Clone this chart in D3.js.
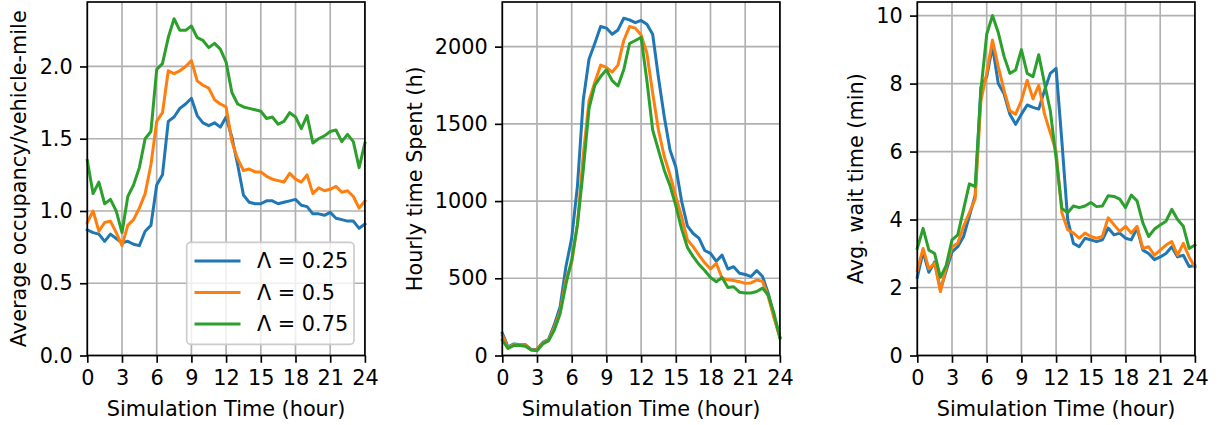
<!DOCTYPE html>
<html>
<head>
<meta charset="utf-8">
<script src="https://cdn.jsdelivr.net/npm/d3@7"></script>
<style>
  body { margin: 0; background: #fff; }
  text { font-family: "DejaVu Sans", sans-serif; fill: #000; }
</style>
</head>
<body>
<script>
/**********************
 ***      Data      ***
 **********************/

// simulation time, half-hour steps
const HOURS = [0, 0.5, 1, 1.5, 2, 2.5, 3, 3.5, 4, 4.5, 5, 5.5, 6, 6.5, 7, 7.5, 8, 8.5, 9, 9.5,
    10, 10.5, 11, 11.5, 12, 12.5, 13, 13.5, 14, 14.5, 15, 15.5, 16, 16.5, 17, 17.5, 18, 18.5, 19, 19.5,
    20, 20.5, 21, 21.5, 22, 22.5, 23, 23.5, 24];

const LAMBDAS = ['Λ = 0.25', 'Λ = 0.5', 'Λ = 0.75'];
const COLORS = ['#1f77b4', '#ff7f0e', '#2ca02c'];

// Average occupancy/vehicle-mile
const OCCUPANCY_025 = [0.87, 0.85, 0.84, 0.79, 0.84, 0.81, 0.78, 0.79, 0.77, 0.76, 0.86, 0.90, 1.18, 1.25, 1.62, 1.65,
    1.71, 1.74, 1.78, 1.66, 1.61, 1.59, 1.61, 1.58, 1.65, 1.51, 1.32, 1.11, 1.06, 1.05, 1.05, 1.07, 1.07, 1.05,
    1.06, 1.07, 1.08, 1.04, 1.03, 0.98, 0.98, 0.97, 0.99, 0.95, 0.94, 0.93, 0.93, 0.88, 0.91];
const OCCUPANCY_05 = [0.92, 1.00, 0.86, 0.92, 0.93, 0.85, 0.76, 0.90, 0.94, 1.02, 1.12, 1.32, 1.62, 1.68, 1.97, 1.95,
    1.97, 2.00, 2.04, 1.90, 1.87, 1.85, 1.77, 1.74, 1.72, 1.48, 1.36, 1.28, 1.29, 1.27, 1.27, 1.24, 1.22, 1.21,
    1.20, 1.26, 1.22, 1.20, 1.25, 1.12, 1.16, 1.14, 1.15, 1.17, 1.13, 1.14, 1.10, 1.02, 1.07];
const OCCUPANCY_075 = [1.35, 1.12, 1.20, 1.05, 1.08, 1.00, 0.85, 1.10, 1.18, 1.30, 1.50, 1.55, 1.98, 2.02, 2.20, 2.33,
    2.25, 2.25, 2.28, 2.20, 2.18, 2.13, 2.16, 2.12, 2.03, 1.82, 1.74, 1.72, 1.71, 1.70, 1.69, 1.64, 1.65, 1.60,
    1.62, 1.68, 1.65, 1.57, 1.66, 1.47, 1.50, 1.52, 1.55, 1.56, 1.48, 1.53, 1.48, 1.30, 1.47];

// Hourly time spent (h)
const TIME_SPENT_025 = [145, 55, 75, 72, 70, 38, 40, 85, 105, 200, 316, 575, 760, 1100, 1655, 1920, 2022, 2130, 2120,
    2080, 2108, 2184, 2173, 2155, 2170, 2145, 2080, 1800, 1547, 1331, 1220, 1000, 840, 790, 760, 680, 661, 610,
    650, 560, 575, 532, 525, 511, 550, 511, 400, 250, 120];
const TIME_SPENT_05 = [130, 50, 70, 70, 65, 38, 35, 80, 100, 180, 285, 490, 600, 850, 1300, 1650, 1770, 1880, 1865,
    1835, 1880, 2040, 2130, 2120, 2075, 1957, 1700, 1460, 1290, 1169, 1030, 900, 750, 705, 650, 600, 560, 597,
    500, 490, 485, 478, 467, 470, 489, 480, 380, 240, 115];
const TIME_SPENT_075 = [100, 45, 65, 65, 60, 35, 30, 75, 95, 165, 270, 460, 620, 850, 1200, 1600, 1750, 1806, 1850,
    1780, 1745, 1850, 2020, 2040, 2060, 1780, 1460, 1330, 1200, 1100, 970, 820, 700, 640, 590, 550, 505, 478,
    505, 440, 445, 410, 405, 405, 414, 436, 390, 270, 113];

// Avg. wait time (min)
const WAIT_TIME_025 = [2.30, 3.05, 2.45, 2.75, 1.93, 2.50, 3.05, 3.20, 3.50, 4.10, 4.70, 7.90, 8.20, 9.10, 8.00, 7.70,
    7.10, 6.80, 7.10, 7.37, 7.30, 7.25, 7.80, 8.30, 8.45, 6.30, 4.00, 3.30, 3.20, 3.45, 3.40, 3.35, 3.40, 3.75,
    3.55, 3.60, 3.45, 3.40, 3.75, 3.10, 3.00, 2.82, 2.90, 3.00, 3.20, 2.90, 2.95, 2.62, 2.65];
const WAIT_TIME_05 = [2.50, 3.15, 2.55, 2.72, 1.88, 2.60, 3.20, 3.30, 3.80, 4.20, 4.60, 7.50, 8.30, 9.28, 8.50, 7.80,
    7.20, 7.10, 7.50, 8.10, 7.55, 7.95, 7.10, 6.55, 6.00, 4.20, 3.70, 3.60, 3.45, 3.60, 3.50, 3.45, 3.50, 4.05,
    3.85, 3.65, 3.80, 3.60, 3.80, 3.15, 3.20, 2.95, 3.10, 3.25, 3.35, 2.95, 3.30, 2.90, 2.60];
const WAIT_TIME_075 = [3.15, 3.74, 3.10, 3.00, 2.30, 2.65, 3.40, 3.55, 4.30, 5.05, 4.97, 7.80, 9.45, 10.00, 9.50, 8.80,
    8.30, 8.40, 9.00, 8.30, 8.20, 8.85, 8.00, 7.20, 5.80, 4.33, 4.20, 4.40, 4.35, 4.40, 4.50, 4.38, 4.40, 4.70,
    4.68, 4.60, 4.35, 4.72, 4.55, 3.90, 3.50, 3.72, 3.84, 3.95, 4.30, 4.00, 3.80, 3.15, 3.25];

// tick labels
const X_TICKS = [0, 3, 6, 9, 12, 15, 18, 21, 24];
const OCCUPANCY_TICKS = [0, 0.5, 1, 1.5, 2];
const TIME_SPENT_TICKS = [0, 500, 1000, 1500, 2000];
const WAIT_TIME_TICKS = [0, 2, 4, 6, 8, 10];

/**********************
 ***    Constants   ***
 **********************/

const SCREEN_DIMENSIONS = { width: 1221, height: 425 };
const PANEL = { top: 2, bottom: 355.5, width: 277.6, lefts: [87.3, 502.3, 917.3] };
const FONT_SIZE = 20.8;
const LINE_WIDTH = 3;
const THIN = 1.67;
const TICK_SIZE = 7.3;

const panels = [
    { label: 'Average occupancy/vehicle-mile', ymax: 2.446, ticks: OCCUPANCY_TICKS, fmt: d3.format('.1f'),
      series: [OCCUPANCY_025, OCCUPANCY_05, OCCUPANCY_075], legend: true },
    { label: 'Hourly time Spent (h)', ymax: 2289, ticks: TIME_SPENT_TICKS, fmt: d3.format('d'),
      series: [TIME_SPENT_025, TIME_SPENT_05, TIME_SPENT_075] },
    { label: 'Avg. wait time (min)', ymax: 10.40, ticks: WAIT_TIME_TICKS, fmt: d3.format('d'),
      series: [WAIT_TIME_025, WAIT_TIME_05, WAIT_TIME_075] }
];

const svg = d3.select('body').append('svg')
    .attr('width', SCREEN_DIMENSIONS.width)
    .attr('height', SCREEN_DIMENSIONS.height)
    .style('font-size', FONT_SIZE + 'px');

panels.forEach((p, i) => {
    const left = PANEL.lefts[i];
    const x = d3.scaleLinear().domain([0, 24]).range([left, left + PANEL.width]);
    const y = d3.scaleLinear().domain([0, p.ymax]).range([PANEL.bottom, PANEL.top]);
    const g = svg.append('g');

    // grid
    g.append('g').selectAll('line').data(X_TICKS).enter().append('line')
        .attr('x1', d => x(d)).attr('x2', d => x(d))
        .attr('y1', PANEL.top).attr('y2', PANEL.bottom)
        .attr('stroke', '#b0b0b0').attr('stroke-width', THIN);
    g.append('g').selectAll('line').data(p.ticks).enter().append('line')
        .attr('x1', left).attr('x2', left + PANEL.width)
        .attr('y1', d => y(d)).attr('y2', d => y(d))
        .attr('stroke', '#b0b0b0').attr('stroke-width', THIN);

    // series
    const line = d3.line().x((d, j) => x(HOURS[j])).y(d => y(d));
    p.series.forEach((s, k) => {
        g.append('path')
            .datum(s)
            .attr('d', line)
            .attr('fill', 'none')
            .attr('stroke', COLORS[k])
            .attr('stroke-width', LINE_WIDTH)
            .attr('stroke-linejoin', 'round')
            .attr('stroke-linecap', 'square');
    });

    // spines
    g.append('rect')
        .attr('x', left).attr('y', PANEL.top)
        .attr('width', PANEL.width).attr('height', PANEL.bottom - PANEL.top)
        .attr('fill', 'none').attr('stroke', '#000').attr('stroke-width', THIN);

    // axes
    const xAxis = g.append('g')
        .attr('transform', `translate(0,${PANEL.bottom})`)
        .call(d3.axisBottom(x).tickValues(X_TICKS).tickSize(TICK_SIZE).tickPadding(TICK_SIZE).tickSizeOuter(0));
    const yAxis = g.append('g')
        .attr('transform', `translate(${left},0)`)
        .call(d3.axisLeft(y).tickValues(p.ticks).tickFormat(p.fmt)
            .tickSize(TICK_SIZE).tickPadding(TICK_SIZE).tickSizeOuter(0));
    [xAxis, yAxis].forEach(a => {
        a.select('.domain').remove();
        a.attr('font-size', null).attr('font-family', null);
        a.selectAll('.tick line').attr('stroke', '#000').attr('stroke-width', THIN);
        a.selectAll('.tick text').attr('fill', '#000');
    });

    // axis labels
    g.append('text')
        .attr('x', left + PANEL.width / 2)
        .attr('y', 416)
        .attr('text-anchor', 'middle')
        .text('Simulation Time (hour)');

    const tickBox = yAxis.node().getBBox();
    const labelX = left + tickBox.x - 8.3 - 0.236 * FONT_SIZE;
    g.append('text')
        .attr('transform', `translate(${labelX},${(PANEL.top + PANEL.bottom) / 2}) rotate(-90)`)
        .attr('text-anchor', 'middle')
        .text(p.label);

    // legend
    if (p.legend) {
        const lg = g.append('g');
        lg.append('rect')
            .attr('x', 186.7).attr('y', 242.3)
            .attr('width', 167.3).attr('height', 102)
            .attr('rx', 4).attr('ry', 4)
            .attr('fill', '#fff').attr('fill-opacity', 0.8)
            .attr('stroke', '#cccccc').attr('stroke-width', THIN);
        const rowY = [261, 292.5, 324];
        LAMBDAS.forEach((name, k) => {
            lg.append('line')
                .attr('x1', 194.5).attr('x2', 240.5)
                .attr('y1', rowY[k]).attr('y2', rowY[k])
                .attr('stroke', COLORS[k]).attr('stroke-width', LINE_WIDTH);
            lg.append('text')
                .attr('x', 257)
                .attr('y', rowY[k])
                .attr('dy', '0.36em')
                .text(name);
        });
    }
});
</script>
</body>
</html>
